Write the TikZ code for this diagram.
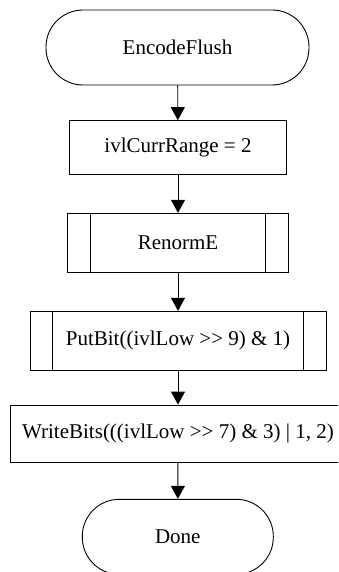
\documentclass[tikz,border=0pt]{standalone}
\usepackage{fontspec}
\setmainfont{Liberation Serif}
\usetikzlibrary{arrows.meta}
\begin{document}
\begin{tikzpicture}[x=1pt,y=-1pt,
  base/.style={draw=black,line width=0.9pt,inner sep=0pt,font=\fontsize{21}{25}\selectfont,anchor=center},
  term/.style={base,rectangle,rounded corners=37pt,minimum height=75pt},
  proc/.style={base,rectangle},
  flow/.style={line width=0.9pt,-{Triangle[width=14pt,length=13pt]}}]
\useasboundingbox (0,0) rectangle (338,572);
\clip (0,0) rectangle (338,572);
\node[term,minimum width=263pt] (t1) at (177.5,47.5) {EncodeFlush};
\node[proc,minimum width=217.4pt,minimum height=53.3pt] (b2) at (178,147.3) {ivlCurrRange = 2};
\node[proc,minimum width=220.6pt,minimum height=59pt] (b3) at (178,242.8) {RenormE};
\node[proc,minimum width=296pt,minimum height=59pt] (b4) at (178,340.8) {PutBit((ivlLow >{}> 9) \& 1)};
\node[proc,minimum width=334.6pt,minimum height=57.3pt] (b5) at (178,433.7) {WriteBits(((ivlLow >{}> 7) \& 3) | 1, 2)};
\node[term,minimum width=191pt] (t2) at (177.8,536.8) {Done};
\foreach \n in {b3,b4}{
  \draw[line width=0.9pt] ([xshift=23pt]\n.north west) -- ([xshift=23pt]\n.south west);
  \draw[line width=0.9pt] ([xshift=-23pt]\n.north east) -- ([xshift=-23pt]\n.south east);
}
\draw[flow] (t1) -- (b2);
\draw[flow] (b2) -- (b3);
\draw[flow] (b3) -- (b4);
\draw[flow] (b4) -- (b5);
\draw[flow] (b5) -- (t2);
\end{tikzpicture}
\end{document}
